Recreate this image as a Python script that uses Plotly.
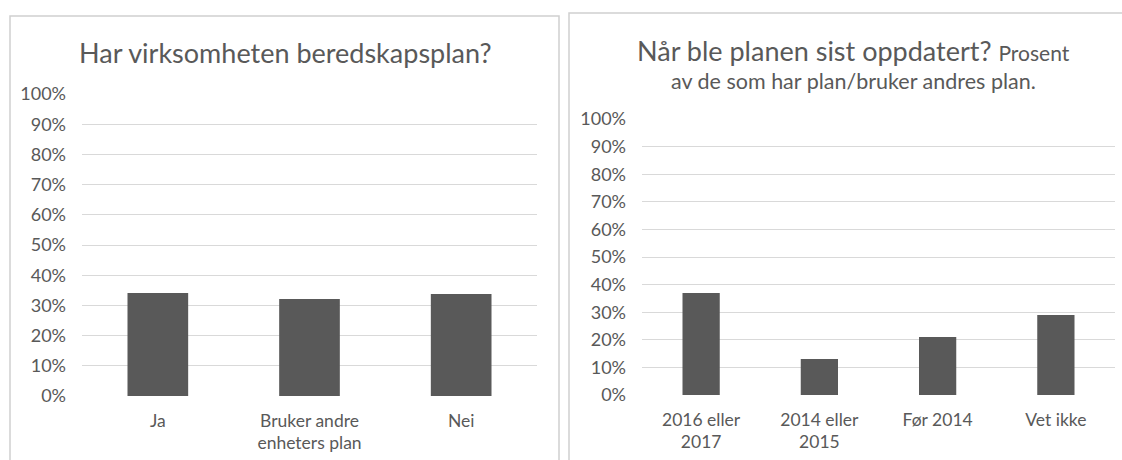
import plotly.graph_objects as go

# Data
cats_left = ["Ja", "Bruker andre<br>enheters plan", "Nei"]
vals_left = [0.341, 0.321, 0.338]

cats_right = ["2016 eller<br>2017", "2014 eller<br>2015", "Før 2014", "Vet ikke"]
vals_right = [0.37, 0.13, 0.21, 0.29]

title_left = "Har virksomheten beredskapsplan?"
title_right_1 = "Når ble planen sist oppdatert?"
title_right_2 = "Prosent"
title_right_3 = "av de som har plan/bruker andres plan."

W, H = 1122, 460
FONT = "Lato, 'Open Sans', sans-serif"
TXT = "#595959"
BAR = "#595959"
GRID = "#d9d9d9"

def px_x(v):
    return v / W

def px_y(v):
    return 1 - v / H

fig = go.Figure()
fig.add_trace(go.Bar(x=cats_left, y=vals_left, marker=dict(color=BAR, line=dict(width=0)),
                     width=0.4, xaxis="x", yaxis="y", hoverinfo="x+y"))
fig.add_trace(go.Bar(x=cats_right, y=vals_right, marker=dict(color=BAR, line=dict(width=0)),
                     width=0.315, xaxis="x2", yaxis="y2", hoverinfo="x+y"))

axis_common_y = dict(range=[0, 1], tickvals=[i / 10 for i in range(11)],
                     tickformat=".0%", showgrid=True, gridcolor=GRID, gridwidth=1,
                     zeroline=False, showline=False, ticks="", automargin=False,
                     tickfont=dict(family=FONT, size=18, color=TXT), ticklabelstandoff=15)
axis_common_x = dict(showgrid=False, zeroline=False, showline=False, ticks="", automargin=False,
                     tickfont=dict(family=FONT, size=17.5, color=TXT), ticklabelstandoff=12)

fig.update_layout(
    template="none",
    width=W, height=H,
    margin=dict(l=0, r=0, t=0, b=0, pad=0),
    paper_bgcolor="white", plot_bgcolor="white",
    showlegend=False,
    xaxis=dict(domain=[px_x(82), px_x(537)], anchor="y", **axis_common_x),
    yaxis=dict(domain=[px_y(396), px_y(94)], anchor="x", **axis_common_y),
    xaxis2=dict(domain=[px_x(642), px_x(1115)], anchor="y2", **axis_common_x),
    yaxis2=dict(domain=[px_y(395), px_y(119)], anchor="x2", **axis_common_y),
    font=dict(family=FONT, color=TXT),
)

# Panel borders
fig.add_shape(type="rect", xref="paper", yref="paper",
              x0=px_x(10), x1=px_x(559), y0=px_y(470), y1=px_y(16),
              line=dict(color="#d0d0d0", width=1.5), fillcolor="rgba(0,0,0,0)", layer="below")
fig.add_shape(type="rect", xref="paper", yref="paper",
              x0=px_x(569), x1=px_x(1130), y0=px_y(470), y1=px_y(13),
              line=dict(color="#d0d0d0", width=1.5), fillcolor="rgba(0,0,0,0)", layer="below")

# Titles
fig.add_annotation(xref="paper", yref="paper", x=px_x(285), y=px_y(52), text=title_left,
                   showarrow=False, xanchor="center", yanchor="middle",
                   font=dict(family=FONT, size=27, color=TXT))
fig.add_annotation(xref="paper", yref="paper", x=px_x(853), y=px_y(50),
                   text=title_right_1 + " <span style='font-size:21px'>" + title_right_2 + "</span>",
                   showarrow=False, xanchor="center", yanchor="middle",
                   font=dict(family=FONT, size=27, color=TXT))
fig.add_annotation(xref="paper", yref="paper", x=px_x(853), y=px_y(81), text=title_right_3,
                   showarrow=False, xanchor="center", yanchor="middle",
                   font=dict(family=FONT, size=21.5, color=TXT))

fig.write_html("out.html", config={"displayModeBar": False},
               post_script="document.body.style.margin='0';document.body.style.overflow='hidden';")
